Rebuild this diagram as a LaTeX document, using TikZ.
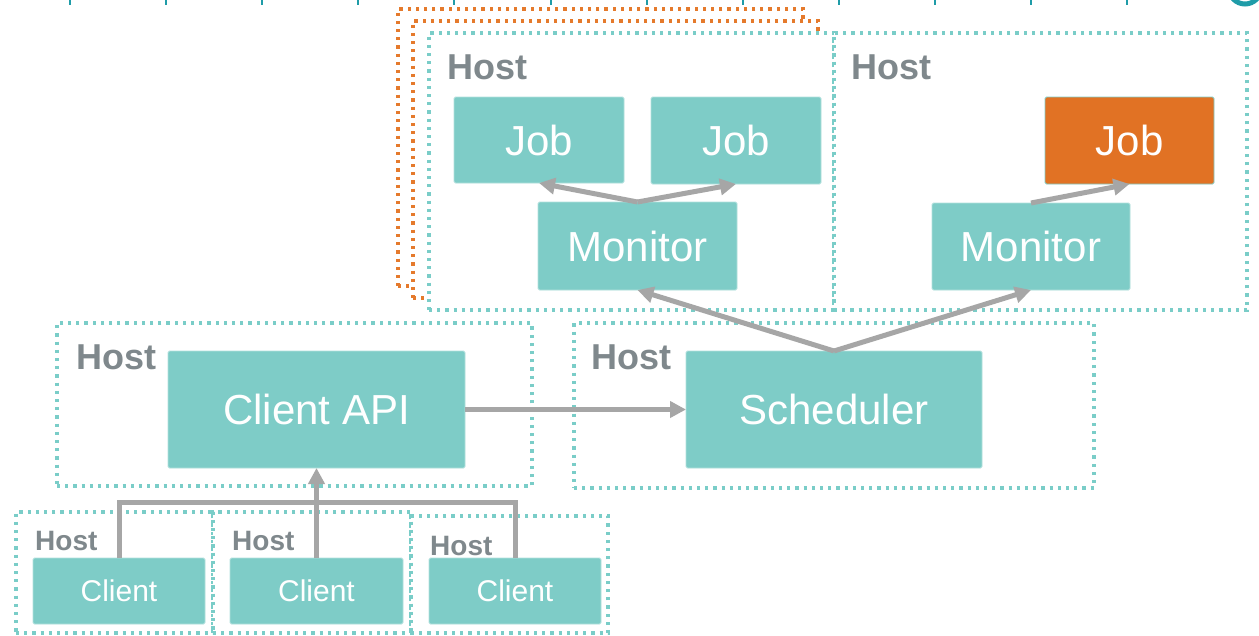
\documentclass[tikz,border=0pt]{standalone}
\usepackage{fontspec}
\setmainfont{Liberation Sans}
\usetikzlibrary{arrows.meta}

\definecolor{tealfill}{HTML}{7ECCC7}
\definecolor{tealdot}{HTML}{7ACDC8}
\definecolor{orangefill}{HTML}{E17224}
\definecolor{orangedot}{HTML}{E57A2C}
\definecolor{hostgray}{HTML}{7F888C}
\definecolor{linkgray}{HTML}{A6A6A6}
\definecolor{tickteal}{HTML}{1F9CA8}

\tikzset{
  hostbox/.style={draw=tealdot, line width=3.2pt, dash pattern=on 3.2pt off 5pt,
    fill=white, inner sep=0pt, outer sep=0pt},
  stackbox/.style={hostbox, draw=orangedot},
  tbox/.style={fill=tealfill, draw=tealfill!60!white, line width=0.8pt,
    rounded corners=1.5pt, text=white, inner sep=0pt, outer sep=0pt,
    font=\fontsize{42}{48}\selectfont},
  jobrun/.style={tbox, fill=orangefill, draw=tealfill},
  clientbox/.style={tbox, font=\fontsize{30}{36}\selectfont},
  hostlabel/.style={anchor=base west, inner sep=0pt, text=hostgray,
    font=\bfseries\fontsize{36}{40}\selectfont},
  smallhost/.style={hostlabel, font=\bfseries\fontsize{28}{32}\selectfont},
  link/.style={draw=linkgray, line width=5pt, -{Triangle[length=16pt, width=16pt]}},
  bus/.style={draw=linkgray, line width=5pt},
  tick/.style={draw=tickteal, line width=2pt},
}

\begin{document}
\begin{tikzpicture}[x=1pt, y=-1pt]
\useasboundingbox (0,0) rectangle (1259,635);

% timeline ticks along the top edge and the page marker
\foreach \k in {0,...,11} \draw[tick] ({70+96.1*\k},0) -- ++(0,4.5);
\draw[tickteal, line width=5pt] (1245,-12) circle[radius=16pt];

% stacked copies of the job host
\node[stackbox, minimum width=405pt, minimum height=277pt] (stackA) at (600.5,147.5) {};
\node[stackbox, minimum width=405pt, minimum height=277pt] (stackB) at (615.5,159.5) {};

% hosts
\node[hostbox, minimum width=405pt, minimum height=277pt] (hostL) at (631.5,171.5) {};
\node[hostbox, minimum width=413pt, minimum height=277pt] (hostR) at (1040.5,171.5) {};
\node[hostbox, minimum width=475pt, minimum height=163pt] (hostApi) at (294.5,404.5) {};
\node[hostbox, minimum width=520pt, minimum height=165pt] (hostSch) at (834,405.5) {};
\node[hostbox, minimum width=197pt, minimum height=121pt] (hostC1) at (114.5,572.5) {};
\node[hostbox, minimum width=198pt, minimum height=121pt] (hostC2) at (312,572.5) {};
\node[hostbox, minimum width=197pt, minimum height=117pt] (hostC3) at (509.5,574.5) {};

% host captions
\node[hostlabel] (capL) at (447,79) {Host};
\node[hostlabel] (capR) at (851.5,79) {Host};
\node[hostlabel] (capApi) at (76.5,369) {Host};
\node[hostlabel] (capSch) at (591.5,369) {Host};
\node[smallhost] (capC1) at (35,550) {Host};
\node[smallhost] (capC2) at (232,550) {Host};
\node[smallhost] (capC3) at (430,555) {Host};

% components
\node[tbox, minimum width=170pt, minimum height=86pt] (job1) at (539,140) {Job};
\node[tbox, minimum width=170pt, minimum height=87pt] (job2) at (736,140.5) {Job};
\node[tbox, minimum width=199pt, minimum height=88pt] (mon1) at (637.5,246) {Monitor};
\node[jobrun, minimum width=169pt, minimum height=87pt] (job3) at (1129.5,140.5) {Job};
\node[tbox, minimum width=198pt, minimum height=87pt] (mon2) at (1031,246.5) {Monitor};
\node[tbox, minimum width=297pt, minimum height=117pt] (capi) at (316.5,409.5) {Client API};
\node[tbox, minimum width=296pt, minimum height=117pt] (sched) at (834,409.5) {Scheduler};
\node[clientbox, minimum width=172pt, minimum height=66pt] (cl1) at (119,591) {Client};
\node[clientbox, minimum width=173pt, minimum height=66pt] (cl2) at (316.5,591) {Client};
\node[clientbox, minimum width=172pt, minimum height=66pt] (cl3) at (515,591) {Client};

% connections
\coordinate (busy) at (0,502);
\draw[bus] (cl1.north) -- (cl1.north |- busy) -- (cl3.north |- busy) -- (cl3.north);
\draw[link] (cl2.north) -- (capi.south);
\draw[link] (capi.east) -- (sched.west);
\draw[link] (sched.north) -- (mon1.south);
\draw[link] (sched.north) -- (mon2.south);
\draw[link] (mon1.north) -- (job1.south);
\draw[link] (mon1.north) -- (job2.south);
\draw[link] (mon2.north) -- (job3.south);
\end{tikzpicture}
\end{document}
